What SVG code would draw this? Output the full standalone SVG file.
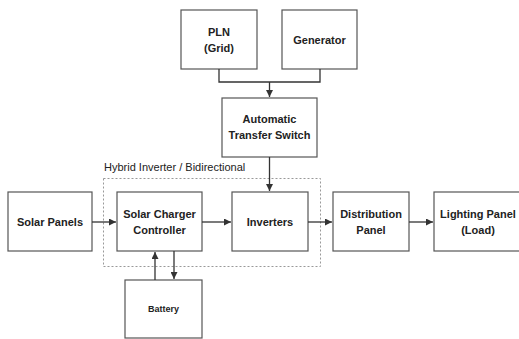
<svg xmlns="http://www.w3.org/2000/svg" width="519" height="339" viewBox="0 0 519 339">
<style>
.box{fill:#fff;stroke:#555;stroke-width:1.2}
.t{font-family:"Liberation Sans",Arial,sans-serif;font-weight:bold;font-size:11px;fill:#222;text-anchor:middle}
.small{font-size:9px}
.lbl{font-family:"Liberation Sans",Arial,sans-serif;font-size:11px;fill:#222}
.c{fill:none;stroke:#333;stroke-width:1.3}
.grp{fill:none;stroke:#999;stroke-width:1;stroke-dasharray:2 2}
</style>
<defs>
<marker id="ah" viewBox="0 0 10 10" refX="10" refY="5" markerWidth="7" markerHeight="7" orient="auto" markerUnits="userSpaceOnUse">
<path d="M0,0 L10,5 L0,10 Z" fill="#333"/>
</marker>
</defs>
<rect width="519" height="339" fill="#fff"/>
<g id="hybrid-group">
<rect class="grp" x="103.5" y="178.5" width="217" height="88"/>
<text class="lbl" x="104" y="171">Hybrid Inverter / Bidirectional</text>
</g>
<g id="pln"><rect class="box" x="181" y="10" width="76" height="59"/><text class="t" x="219" y="36">PLN</text><text class="t" x="219" y="52">(Grid)</text></g>
<g id="generator"><rect class="box" x="282" y="10" width="75" height="59"/><text class="t" x="319.5" y="44">Generator</text></g>
<g id="ats"><rect class="box" x="222" y="98" width="95" height="59"/><text class="t" x="269.5" y="123">Automatic</text><text class="t" x="269.5" y="139">Transfer Switch</text></g>
<g id="solar-panels"><rect class="box" x="8" y="192" width="84" height="59"/><text class="t" x="50" y="226">Solar Panels</text></g>
<g id="scc"><rect class="box" x="117" y="192" width="85" height="59"/><text class="t" x="159.5" y="218">Solar Charger</text><text class="t" x="159.5" y="234">Controller</text></g>
<g id="inverters"><rect class="box" x="232" y="192" width="76" height="59"/><text class="t" x="270" y="226">Inverters</text></g>
<g id="distribution"><rect class="box" x="333" y="192" width="76" height="59"/><text class="t" x="371" y="218">Distribution</text><text class="t" x="371" y="234">Panel</text></g>
<g id="lighting"><rect class="box" x="434" y="192" width="88" height="59"/><text class="t" x="478" y="218">Lighting Panel</text><text class="t" x="478" y="234">(Load)</text></g>
<g id="battery"><rect class="box" x="125" y="280" width="77" height="58"/><text class="t small" x="163.5" y="312">Battery</text></g>
<g id="connectors">
<path class="c" d="M219,69 V82 H320 V69"/>
<path class="c" d="M269.5,82 V97" marker-end="url(#ah)"/>
<path class="c" d="M269.5,157 V191" marker-end="url(#ah)"/>
<path class="c" d="M92,222 H116" marker-end="url(#ah)"/>
<path class="c" d="M202,222 H231" marker-end="url(#ah)"/>
<path class="c" d="M308,222 H332" marker-end="url(#ah)"/>
<path class="c" d="M409,222 H433" marker-end="url(#ah)"/>
<path class="c" d="M155,280 V252" marker-end="url(#ah)"/>
<path class="c" d="M174,251 V279" marker-end="url(#ah)"/>
</g>
</svg>
